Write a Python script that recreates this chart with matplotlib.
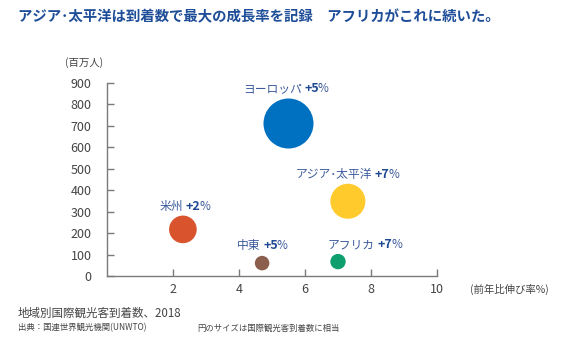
import numpy as np
import matplotlib.pyplot as plt

plt.rcParams['font.family'] = ['Noto Sans CJK JP', 'DejaVu Sans']

# regional arrivals 2018 (millions) vs. growth over previous year (%)
regions = ['ヨーロッパ', 'アジア･太平洋', '米州', '中東', 'アフリカ']
growth_x = [5.5, 7.3, 2.3, 4.7, 7.0]
arrivals = [710, 348, 217, 60, 67]
growth_label = ['+5', '+7', '+2', '+5', '+7']
colors = ['#0070c0', '#ffca2c', '#d9532c', '#8c5e4e', '#0d9f6e']

# label anchor offsets from bubble centre (pixels: right, up)
label_offsets = [(16, 35), (27, 27), (3, 23), (1, 18), (40, 17)]

title_color = '#1f4e99'
label_color = '#3b5a9c'
value_color = '#1f4a93'
axis_color = '#7a7a7a'
text_color = '#444444'

fig = plt.figure(figsize=(5.72, 3.44), dpi=100)
fig.patch.set_facecolor('white')
ax = fig.add_axes([107 / 572, 68 / 344, 330 / 572, 193.3 / 344])

# marker area scales with arrivals
sizes = [1296 * v / 710 for v in arrivals]
ax.scatter(growth_x, arrivals, s=sizes, c=colors, linewidths=0, zorder=3)

px = 0.72  # pixels -> points
for x, y, name, g, (dx, dy) in zip(growth_x, arrivals, regions, growth_label, label_offsets):
    ax.annotate(name, (x, y), xytext=((dx - 3) * px, dy * px), textcoords='offset points',
                ha='right', va='center', fontsize=8.5, color=label_color)
    ax.annotate(g, (x, y), xytext=(dx * px, dy * px), textcoords='offset points',
                ha='left', va='center', fontsize=9, color=value_color, fontweight='bold')
    ax.annotate('%', (x, y), xytext=((dx + 13.5) * px, dy * px), textcoords='offset points',
                ha='left', va='center', fontsize=8.5, color=label_color)

ax.set_xlim(0, 10)
ax.set_ylim(0, 900)
ax.set_xticks([2, 4, 6, 8, 10])
ax.set_yticks(np.arange(0, 901, 100))
ax.spines['top'].set_visible(False)
ax.spines['right'].set_visible(False)
for s in ['left', 'bottom']:
    ax.spines[s].set_color(axis_color)
    ax.spines[s].set_linewidth(1.0)
ax.tick_params(axis='both', direction='in', length=5, width=1, color=axis_color,
               labelcolor=text_color, labelsize=9)
ax.tick_params(axis='x', pad=5)
ax.tick_params(axis='y', pad=11)
ax.set_facecolor('none')

fig.text(18 / 572, 1 - 17 / 344,
         'アジア･太平洋は到着数で最大の成長率を記録　アフリカがこれに続いた。',
         fontsize=10.4, fontweight='bold', color=title_color, va='center', ha='left')
fig.text(65 / 572, 1 - 63 / 344, '(百万人)', fontsize=7.5, color=text_color,
         va='center', ha='left')
fig.text(470 / 572, 1 - 289 / 344, '(前年比伸び率%)', fontsize=7.5, color=text_color,
         va='center', ha='left')
fig.text(18 / 572, 1 - 313 / 344, '地域別国際観光客到着数、2018', fontsize=8.3,
         color=text_color, va='center', ha='left')
fig.text(18 / 572, 1 - 328 / 344, '出典：国連世界観光機関(UNWTO)', fontsize=6,
         color=text_color, va='center', ha='left')
fig.text(197 / 572, 1 - 328 / 344, '円のサイズは国際観光客到着数に相当', fontsize=6,
         color=text_color, va='center', ha='left')

fig.savefig('out.png', dpi=100)
